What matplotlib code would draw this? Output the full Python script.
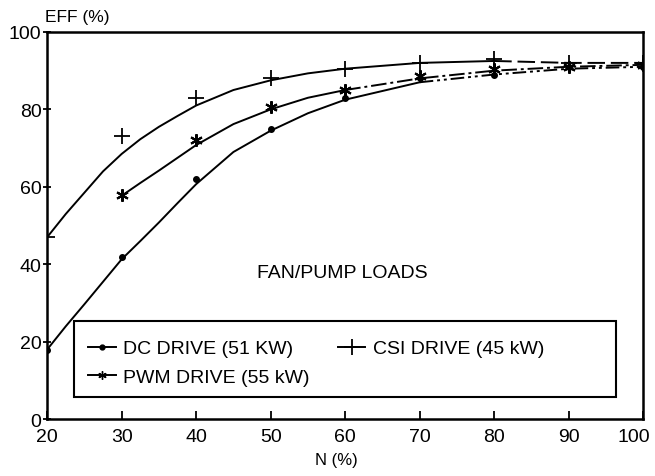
import numpy as np
import matplotlib
matplotlib.use("Agg")
import matplotlib.pyplot as plt
import matplotlib.transforms as mtransforms
from matplotlib.lines import Line2D
from matplotlib.patches import Rectangle

plt.rcParams['font.family'] = ['Liberation Sans', 'DejaVu Sans']

# measured points (markers)
n_pts = np.array([20, 30, 40, 50, 60, 70, 80, 90, 100])
dc_pts = np.array([18, 42, 62, 75, 83, 88, 89, 91, 91])
pwm_pts = np.array([np.nan, 58, 72, 80.5, 85, 88.5, 90.5, 91, 91.5])
csi_pts = np.array([47, 73, 83, 88, 90.5, 92, 93, 92, 92])

# fitted curves
n_fit = np.array([20, 22.5, 25, 27.5, 30, 32.5, 35, 37.5, 40, 45, 50, 55, 60, 70, 80, 90, 100])
dc_fit = np.array([18, 24, 29.7, 35.5, 41.3, 46, 50.8, 55.8, 60.7, 69, 74.5, 79, 82.5, 87, 89, 90.5, 91])
pwm_fit = np.array([np.nan, np.nan, np.nan, np.nan, 57.7, 61, 64.2, 67.5, 70.8, 76.2, 80, 83, 85, 88, 90, 91, 91.5])
csi_fit = np.array([47, 53, 58.5, 64, 68.5, 72.3, 75.5, 78.3, 81, 85, 87.5, 89.3, 90.5, 92, 92.5, 92, 92])

fig = plt.figure(figsize=(6.55, 4.77), dpi=100)
ax = fig.add_axes([0.072, 0.119, 0.91, 0.812])

lw = 1.4
# DC drive: solid, then dash-dot-dot
ax.plot(n_fit[n_fit <= 70], dc_fit[n_fit <= 70], color='black', lw=lw)
ax.plot(n_fit[n_fit >= 70], dc_fit[n_fit >= 70], color='black', lw=lw,
        dashes=(7, 2, 1.5, 2, 1.5, 2))
ax.plot(n_pts, dc_pts, 'o', color='black', ms=4)

# PWM drive: solid, then dash-dot
ax.plot(n_fit[n_fit <= 60], pwm_fit[n_fit <= 60], color='black', lw=lw)
ax.plot(n_fit[n_fit >= 60], pwm_fit[n_fit >= 60], color='black', lw=lw, dashes=(8, 2, 1.5, 2))
ax.plot(n_pts, pwm_pts, marker=(6, 2, 0), ls='none', color='black', ms=9, mew=1.5)

# CSI drive: solid, then dashed
ax.plot(n_fit[n_fit <= 80], csi_fit[n_fit <= 80], color='black', lw=lw)
ax.plot(n_fit[n_fit >= 80], csi_fit[n_fit >= 80], color='black', lw=lw, dashes=(9, 3))
ax.plot(n_pts, csi_pts, '+', color='black', ms=12, mew=1.3)

ax.set_xlim(20, 100)
ax.set_ylim(0, 100)
ax.set_xticks([20, 30, 40, 50, 60, 70, 80, 90, 100])
ax.set_yticks([0, 20, 40, 60, 80, 100])
ax.tick_params(axis='x', direction='in', length=6, width=1.3, labelsize=14, pad=6)
ax.tick_params(axis='y', direction='inout', length=6, width=1.3, labelsize=14, pad=1)
for s in ax.spines.values():
    s.set_linewidth(1.8)

# nudge the last x label so it stays inside the figure
lab = ax.get_xticklabels()[-1]
lab.set_transform(lab.get_transform() + mtransforms.ScaledTranslation(-6.5 / 72, 0, fig.dpi_scale_trans))

ax.text(59.6, 38, 'FAN/PUMP LOADS', ha='center', va='center', fontsize=14)
fig.text(0.069, 0.963, 'EFF (%)', ha='left', va='center', fontsize=12.5)
ax.set_xlabel('N (%)', fontsize=12, labelpad=5, x=0.485)

# legend box
ax.add_patch(Rectangle((0.045, 0.057), 0.91, 0.196, transform=ax.transAxes,
                       fill=True, facecolor='white', edgecolor='black', lw=1.5, zorder=4))
handles = [
    Line2D([], [], color='black', lw=lw, marker='o', ms=3.5),
    Line2D([], [], color='black', lw=lw, marker=(6, 2, 0), ms=6),
    Line2D([], [], color='black', lw=lw, marker='+', ms=12, mew=1.3),
]
labels = ['DC DRIVE (51 KW)', 'PWM DRIVE (55 kW)', 'CSI DRIVE (45 kW)']
leg = ax.legend(handles, labels, ncol=2, loc='upper left',
                bbox_to_anchor=(0.069, 0.205), fontsize=14, frameon=False,
                handlelength=1.4, handletextpad=0.4, borderpad=0, borderaxespad=0,
                labelspacing=0.55, columnspacing=1.45)
leg.set_zorder(5)

fig.savefig('out.png', dpi=100)
